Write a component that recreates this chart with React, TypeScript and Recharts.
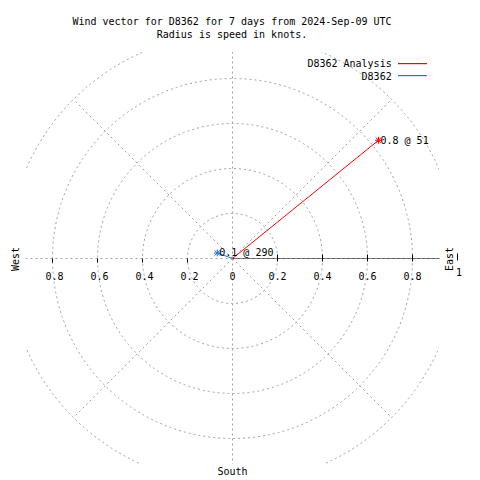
import React from 'react';
import {
  ScatterChart, Scatter, XAxis, YAxis, Legend,
  RadarChart, Radar, PolarGrid, PolarAngleAxis, PolarRadiusAxis,
} from 'recharts';

// ---------- data ----------
const TITLE_LINES = [
  'Wind vector for D8362 for 7 days from 2024-Sep-09 UTC',
  'Radius is speed in knots.',
];
const SERIES_NAMES = ['D8362 Analysis', 'D8362'];
const SERIES_COLORS = ['#ff0000', '#1a75e8'];
const SPEEDS = [0.835, 0.072]; // knots
const DIRECTIONS = [51, 290]; // degrees, clockwise from north
const SPEED_LABELS = ['0.8 @ 51', '0.1 @ 290'];
const RADIAL_TICKS = [-0.8, -0.6, -0.4, -0.2, 0, 0.2, 0.4, 0.6, 0.8, 1];
const RING_TICKS = [0, 0.2, 0.4, 0.6, 0.8, 1];
const COMPASS = ['N', 'NE', 'E', 'SE', 'S', 'SW', 'W', 'NW'];
const COMPASS_LABELS = { west: 'West', east: 'East', south: 'South' };
const AXIS_EXTENT = 0.92;

const FONT = "'DejaVu Sans Mono', monospace";
const GRID = '#a0a0a0';

const compassData = COMPASS.map((d) => ({ dir: d, r: 0 }));

const vectorData = SPEEDS.map((s, i) => {
  const rad = (DIRECTIONS[i] * Math.PI) / 180;
  return [
    { x: 0, y: 0, end: false, label: '' },
    { x: s * Math.sin(rad), y: s * Math.cos(rad), end: true, label: SPEED_LABELS[i] },
  ];
});

const axisLineData = [
  { x: 0, y: 0 },
  { x: AXIS_EXTENT, y: 0 },
];

const makeStar = (color: string) => (props: any) => {
  const { cx, cy, payload } = props;
  if (!payload || !payload.end || cx == null) return <g />;
  const s = 3.5;
  return (
    <g>
      <line x1={cx - s} y1={cy} x2={cx + s} y2={cy} stroke={color} />
      <line x1={cx} y1={cy - s} x2={cx} y2={cy + s} stroke={color} />
      <line x1={cx - s + 0.8} y1={cy - s + 0.8} x2={cx + s - 0.8} y2={cy + s - 0.8} stroke={color} />
      <line x1={cx - s + 0.8} y1={cy + s - 0.8} x2={cx + s - 0.8} y2={cy - s + 0.8} stroke={color} />
      <text x={cx + 2} y={cy + 3.5} fontFamily={FONT} fontSize={10} fill="#000">
        {payload.label}
      </text>
    </g>
  );
};

const fmt = (v: number) => {
  const a = Math.abs(v);
  return a === 0 ? '0' : a === 1 ? '1' : a.toFixed(1);
};

const AxisTick = (props: any) => {
  const { x, y, payload } = props;
  const v = payload.value as number;
  const label = fmt(v);
  if (v === 1) {
    return (
      <g>
        <line x1={x} y1={y - 5} x2={x} y2={y + 2} stroke="#000" />
        <text x={x + 1.5} y={y + 17} textAnchor="middle" fontFamily={FONT} fontSize={10} fill="#000">{label}</text>
      </g>
    );
  }
  return (
    <g>
      {v > 0 && <line x1={x} y1={y - 4} x2={x} y2={y + 3} stroke="#000" />}
      {v < 0 && <line x1={x} y1={y} x2={x} y2={y + 4} stroke="#000" />}
      <text x={v < 0 ? x + 2 : x} y={y + 21} textAnchor="middle" fontFamily={FONT} fontSize={10} fill="#000">{label}</text>
    </g>
  );
};

const LegendContent = (props: any) => {
  const payload = (props.payload || [])
    .filter((p: any) => SERIES_NAMES.includes(p.value))
    .sort((a: any, b: any) => SERIES_NAMES.indexOf(a.value) - SERIES_NAMES.indexOf(b.value));
  return (
    <svg width={150} height={32} style={{ display: 'block' }}>
      {payload.map((p: any, i: number) => (
        <g key={p.value}>
          <text x={101.7} y={12.3 + i * 12.7} textAnchor="end" fontFamily={FONT} fontSize={10} fill="#000">
            {p.value}
          </text>
          <rect x={108} y={8 + i * 12} width={29} height={1.2}
            style={{ fill: SERIES_COLORS[i], stroke: 'none' }} />
        </g>
      ))}
    </svg>
  );
};

export default function App() {
  return (
    <div style={{ position: 'relative', left: -8, top: -8, width: 480, height: 480, background: '#fff', overflow: 'hidden' }}>
      {/* polar grid, clipped to the square plotting frame */}
      <div style={{ position: 'absolute', left: 26, top: 52, width: 413, height: 412, overflow: 'hidden' }}>
        <div style={{ position: 'absolute', left: -26, top: -52 }}>
          <RadarChart width={480} height={480} data={compassData} cx={232.5} cy={258.5} outerRadius={225}
            margin={{ top: 0, right: 0, bottom: 0, left: 0 }}>
            <PolarGrid gridType="circle" stroke={GRID} strokeDasharray="2 3" />
            <PolarAngleAxis dataKey="dir" tick={false} axisLine={false} />
            <PolarRadiusAxis type="number" domain={[0, 1]} ticks={RING_TICKS} tickCount={6}
              allowDataOverflow tick={false} axisLine={false} />
            <Radar dataKey="r" stroke="none" fill="none" isAnimationActive={false} />
          </RadarChart>
        </div>
      </div>

      {/* text labels */}
      <svg width={480} height={480} style={{ position: 'absolute', left: 0, top: 0 }}>
        <text x={232} y={24.5} textAnchor="middle" fontFamily={FONT} fontSize={10} fill="#000">{TITLE_LINES[0]}</text>
        <text x={232} y={37.5} textAnchor="middle" fontFamily={FONT} fontSize={10} fill="#000">{TITLE_LINES[1]}</text>
        <text transform="translate(18.5,259) rotate(-90)" textAnchor="middle" fontFamily={FONT} fontSize={10} fill="#000">{COMPASS_LABELS.west}</text>
        <text transform="translate(453,259) rotate(-90)" textAnchor="middle" fontFamily={FONT} fontSize={10} fill="#000">{COMPASS_LABELS.east}</text>
        <text x={232.5} y={475} textAnchor="middle" fontFamily={FONT} fontSize={10} fill="#000">{COMPASS_LABELS.south}</text>
      </svg>

      {/* vectors and axis */}
      <div style={{ position: 'absolute', left: 0, top: 0 }}>
        <ScatterChart width={480} height={480} margin={{ top: 33.5, right: 22.5, bottom: 191.5, left: 7.5 }}>
          <XAxis type="number" dataKey="x" domain={[-1, 1]} ticks={RADIAL_TICKS} interval={0}
            allowDataOverflow axisLine={false} tickLine={false} tickSize={0} tickMargin={0} height={30}
            tick={<AxisTick />} />
          <YAxis type="number" dataKey="y" domain={[0, 1]} allowDataOverflow hide />
          <Legend content={<LegendContent />} layout="vertical" align="center" verticalAlign="middle"
            wrapperStyle={{ position: 'absolute', left: 290, top: 55, width: 150, height: 32 }} />
          <Scatter name="axis" data={axisLineData} legendType="none" line={{ stroke: '#000', strokeWidth: 1 }}
            shape={() => <g />} fill="#000" isAnimationActive={false} />
          {vectorData.map((d, i) => (
            <Scatter key={SERIES_NAMES[i]} name={SERIES_NAMES[i]} data={d} fill={SERIES_COLORS[i]}
              line={{ stroke: SERIES_COLORS[i], strokeWidth: 1 }} shape={makeStar(SERIES_COLORS[i])}
              isAnimationActive={false} />
          ))}
        </ScatterChart>
      </div>
    </div>
  );
}
